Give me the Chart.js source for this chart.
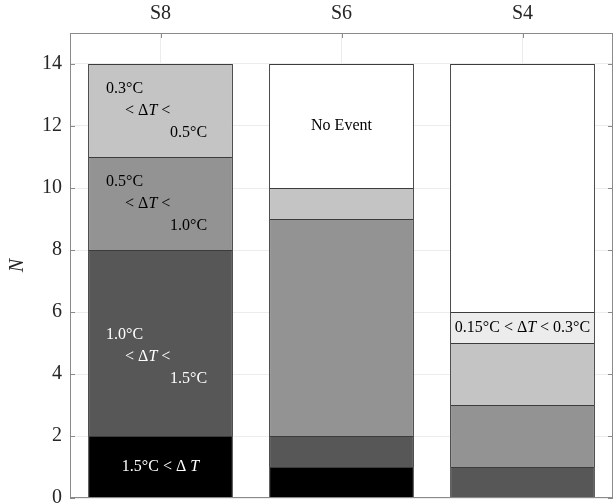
<!DOCTYPE html>
<html>
<head>
<meta charset="utf-8">
<script src="https://cdn.jsdelivr.net/npm/chart.js@4"></script>
<style>
  html, body { margin: 0; padding: 0; background: #fff; overflow: hidden; }
  #wrap { position: relative; width: 613px; height: 518px; }
</style>
</head>
<body>
<div id="wrap"><canvas id="chart"></canvas></div>
<script>
// stacked counts, bottom to top
const categories = ["S8", "S6", "S4"]
const above15 = [2, 1, 0]
const from10to15 = [6, 1, 1]
const from05to10 = [3, 7, 2]
const from03to05 = [3, 1, 2]
const from015to03 = [0, 0, 1]
const noEvent = [0, 4, 8]
const yMax = 15
const yStep = 2

const SERIF = "'Liberation Serif', 'DejaVu Serif', serif"

// in-bar annotations; each line is a list of [text, italic]
const deg = "\u00b0C"
const staggered = (a, b) => [
  [[a + deg, false]],
  [["< \u0394", false], ["T", true], [" <", false]],
  [[b + deg, false]],
]
const notes = [
  { ds: 0, cat: 0, color: "#fff", lines: [[["1.5" + deg + " < \u0394 ", false], ["T", true]]] },
  { ds: 1, cat: 0, color: "#fff", stagger: true, dy: 14, lines: staggered("1.0", "1.5") },
  { ds: 2, cat: 0, color: "#000", stagger: true, dy: 0, lines: staggered("0.5", "1.0") },
  { ds: 3, cat: 0, color: "#000", stagger: true, dy: 0, lines: staggered("0.3", "0.5") },
  { ds: 4, cat: 2, color: "#000", lines: [[["0.15" + deg + " < \u0394", false], ["T", true], [" < 0.3" + deg, false]]] },
  { ds: 5, cat: 1, color: "#000", lines: [[["No Event", false]]] },
]

function drawRich(ctx, parts, x, y, align) {
  const fonts = parts.map(([, it]) => (it ? "italic " : "") + "16px " + SERIF)
  let total = 0
  const widths = parts.map(([t], i) => {
    ctx.font = fonts[i]
    const w = ctx.measureText(t).width
    total += w
    return w
  })
  let cx = align === "center" ? x - total / 2 : x
  parts.forEach(([t], i) => {
    ctx.font = fonts[i]
    ctx.fillText(t, cx, y)
    cx += widths[i]
  })
}

const notesPlugin = {
  id: "notes",
  afterDatasetsDraw(chart) {
    const ctx = chart.ctx
    ctx.save()
    ctx.textBaseline = "middle"
    ctx.textAlign = "left"
    notes.forEach((n) => {
      const el = chart.getDatasetMeta(n.ds).data[n.cat]
      if (!el) return
      const mid = (el.y + el.base) / 2 + (n.dy || 0)
      const left = el.x - el.width / 2
      ctx.fillStyle = n.color
      if (n.stagger) {
        const offs = [18, 37, 82]
        n.lines.forEach((parts, i) => drawRich(ctx, parts, left + offs[i], mid + (i - 1) * 22, "left"))
      } else {
        n.lines.forEach((parts) => drawRich(ctx, parts, el.x, mid, "center"))
      }
    })
    ctx.restore()
  },
}

const framePlugin = {
  id: "frame",
  afterDraw(chart) {
    const { ctx, chartArea: a, scales } = chart
    ctx.save()
    ctx.strokeStyle = "#8a8a8a"
    ctx.lineWidth = 1
    const line = (x1, y1, x2, y2) => {
      ctx.beginPath()
      ctx.moveTo(x1, y1)
      ctx.lineTo(x2, y2)
      ctx.stroke()
    }
    ctx.strokeRect(Math.round(a.left) + 0.5, Math.round(a.top) + 0.5, Math.round(a.width) - 1, Math.round(a.height) - 1)
    scales.y.ticks.forEach((t) => {
      const y = Math.round(scales.y.getPixelForValue(t.value)) + 0.5
      line(a.left, y, a.left + 5, y)
      line(a.right - 5, y, a.right, y)
    })
    categories.forEach((c, i) => {
      const x = Math.round(scales.x.getPixelForValue(i)) + 0.5
      line(x, a.top, x, a.top + 5)
    })
    ctx.restore()
  },
}

const fills = ["#000000", "#575757", "#939393", "#c4c4c4", "#ececec", "#ffffff"]
const series = [above15, from10to15, from05to10, from03to05, from015to03, noEvent]
const names = ["1.5 < dT", "1.0 < dT < 1.5", "0.5 < dT < 1.0", "0.3 < dT < 0.5", "0.15 < dT < 0.3", "No Event"]

new Chart(document.getElementById("chart").getContext("2d"), {
  type: "bar",
  data: {
    labels: categories,
    datasets: series.map((vals, i) => ({
      label: names[i],
      data: vals,
      backgroundColor: fills[i],
      borderColor: "#3c3c3c",
      borderWidth: 1,
      categoryPercentage: 0.8,
      barPercentage: 1.0,
    })),
  },
  options: {
    responsive: true,
    maintainAspectRatio: false,
    animation: false,
    layout: { padding: 0 },
    plugins: { legend: { display: false }, tooltip: { enabled: false } },
    scales: {
      x: {
        stacked: true,
        position: "top",
        grid: { offset: false, color: "#ececec", drawTicks: false },
        border: { display: false },
        ticks: { color: "#262626", padding: 7, font: { family: SERIF, size: 20 } },
        afterFit: (s) => { s.height = 33 },
      },
      y: {
        stacked: true,
        min: 0,
        max: yMax,
        grid: { color: "#ececec", drawTicks: false },
        border: { display: false },
        ticks: { stepSize: yStep, includeBounds: false, color: "#262626", padding: 8, font: { family: SERIF, size: 20 } },
        title: { display: true, text: "N", color: "#262626", padding: { top: 6, bottom: 0 }, font: { family: SERIF, size: 20, style: "italic" } },
        afterFit: (s) => { s.width = 70 },
      },
    },
  },
  plugins: [notesPlugin, framePlugin],
})
</script>
</body>
</html>
